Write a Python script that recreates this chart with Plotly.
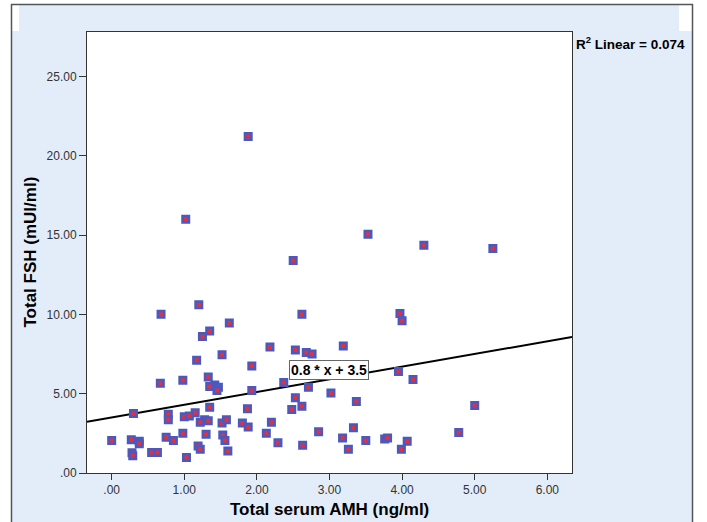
import plotly.graph_objects as go

# Total serum AMH (ng/ml) and total FSH (mUI/ml) per subject
amh = [1.88, 1.02, 3.53, 4.30, 5.25, 2.50, 1.20, 0.68, 2.62, 3.97,
       4.00, 1.62, 1.35, 1.25, 2.18, 3.19, 2.53, 2.68, 2.76, 1.52,
       1.17, 1.93, 3.95, 1.33, 4.15, 0.98, 0.67, 1.42, 1.47, 1.35,
       2.37, 1.45, 1.93, 2.71, 3.02, 2.53, 3.37, 1.35, 2.48, 2.62,
       0.30, 0.78, 0.78, 1.00, 1.15, 1.07, 1.28, 1.33, 1.52, 1.58,
       1.22, 1.80, 2.20, 1.88, 2.85, 3.33, 4.78, 5.00, 1.30, 1.53,
       0.98, 0.75, 0.85, 0.00, 0.27, 0.38, 0.38, 1.56, 1.87, 2.13,
       2.29, 2.63, 3.18, 3.26, 3.50, 3.76, 3.80, 4.07, 3.99, 0.28,
       0.29, 0.55, 0.63, 1.03, 1.19, 1.22, 1.60]
fsh = [21.22, 16.00, 15.05, 14.35, 14.15, 13.40, 10.60, 10.00, 10.00, 10.05,
       9.60, 9.45, 8.95, 8.60, 7.95, 8.00, 7.75, 7.60, 7.50, 7.45,
       7.10, 6.75, 6.40, 6.05, 5.90, 5.85, 5.65, 5.55, 5.40, 5.45,
       5.70, 5.20, 5.20, 5.40, 5.05, 4.75, 4.50, 4.15, 4.00, 4.20,
       3.75, 3.70, 3.35, 3.55, 3.80, 3.60, 3.35, 3.30, 3.15, 3.35,
       3.20, 3.15, 3.20, 2.90, 2.60, 2.85, 2.55, 4.25, 2.45, 2.40,
       2.50, 2.25, 2.05, 2.05, 2.10, 2.00, 1.85, 2.05, 4.05, 2.50,
       1.90, 1.75, 2.20, 1.50, 2.05, 2.15, 2.20, 2.00, 1.50, 1.28,
       1.08, 1.30, 1.30, 0.98, 1.70, 1.50, 1.38]

# Linear fit shown on the chart
slope = 0.8
intercept = 3.5
r2 = 0.074

x_range = [-0.34, 6.34]
y_range = [0, 27.8]
x_ticks = [0, 1, 2, 3, 4, 5, 6]
x_tick_text = [".00", "1.00", "2.00", "3.00", "4.00", "5.00", "6.00"]
y_ticks = [0, 5, 10, 15, 20, 25]
y_tick_text = [".00", "5.00", "10.00", "15.00", "20.00", "25.00"]

W, H = 707, 522
L, R, T, B = 87, 572, 32, 473  # plot area in pixels


def px(x):
    return (x - L) / (R - L)


def py(y):
    return (B - y) / (B - T)


fig = go.Figure()

fig.add_trace(go.Scatter(
    x=x_range,
    y=[slope * v + intercept for v in x_range],
    mode="lines",
    line=dict(color="black", width=2),
    hoverinfo="skip",
    showlegend=False,
))

fig.add_trace(go.Scatter(
    x=amh, y=fsh, mode="markers",
    marker=dict(symbol="square", size=6.5, color="#e2303c",
                line=dict(color="#4a59bf", width=2.5)),
    showlegend=False,
))

panel = "#e2edf9"
border = "#555555"
shapes = [
    # light blue chart panel
    dict(type="rect", xref="paper", yref="paper", x0=px(12), x1=px(692),
         y0=py(5), y1=py(H + 5), fillcolor=panel, line=dict(width=0), layer="below"),
    # white strips in the header band
    dict(type="rect", xref="paper", yref="paper", x0=px(12), x1=px(19),
         y0=py(5), y1=py(31), fillcolor="white", line=dict(width=0), layer="below"),
    dict(type="rect", xref="paper", yref="paper", x0=px(679), x1=px(692),
         y0=py(5), y1=py(31), fillcolor="white", line=dict(width=0), layer="below"),
    # white plotting area
    dict(type="rect", xref="paper", yref="paper", x0=0, x1=1, y0=0, y1=1,
         fillcolor="white", line=dict(width=0), layer="below"),
    # outer frame
    dict(type="line", xref="paper", yref="paper", x0=px(11.5), x1=px(11.5),
         y0=py(4), y1=py(H + 5), line=dict(color=border, width=1.5)),
    dict(type="line", xref="paper", yref="paper", x0=px(11), x1=px(693),
         y0=py(4.5), y1=py(4.5), line=dict(color=border, width=1.5)),
    dict(type="line", xref="paper", yref="paper", x0=px(692.5), x1=px(692.5),
         y0=py(4), y1=py(H + 5), line=dict(color=border, width=1.5)),
]

font_family = "Liberation Sans, Arial, sans-serif"
annotations = [
    dict(text="Total FSH (mUI/ml)", xref="paper", yref="paper",
         x=px(30), y=0.5, xanchor="center", yanchor="middle",
         textangle=-90, showarrow=False,
         font=dict(family=font_family, size=17, color="black", weight="bold")),
    dict(text="Total serum AMH (ng/ml)", xref="paper", yref="paper",
         x=0.5, y=py(509), xanchor="center", yanchor="middle", showarrow=False,
         font=dict(family=font_family, size=17, color="black", weight="bold")),
    dict(text=f"R<sup>2</sup> Linear = {r2:.3f}", xref="paper", yref="paper",
         x=px(574), y=py(43), xanchor="left", yanchor="middle", showarrow=False,
         font=dict(family=font_family, size=13.5, color="black", weight="bold")),
    dict(text=f"{slope} * x + {intercept}", x=2.99, y=6.52,
         xanchor="center", yanchor="middle", showarrow=False,
         bgcolor="white", bordercolor="#666666", borderwidth=1, borderpad=1,
         font=dict(family=font_family, size=14, color="black", weight="bold")),
]

axis_common = dict(
    showline=True, linecolor="#333333", linewidth=1, mirror=True,
    showgrid=False, zeroline=False, ticks="outside",
    tickcolor="#333333",
    tickfont=dict(family=font_family, size=12, color="#333333"),
)

fig.update_layout(
    width=W, height=H,
    margin=dict(l=L, r=W - R, t=T, b=H - B, pad=0),
    paper_bgcolor="white",
    plot_bgcolor="rgba(0,0,0,0)",
    shapes=shapes,
    annotations=annotations,
    xaxis=dict(range=x_range, tickvals=x_ticks, ticktext=x_tick_text,
               ticklen=6, **axis_common),
    yaxis=dict(range=y_range, tickvals=y_ticks, ticktext=y_tick_text,
               ticklen=7, **axis_common),
)

fig.write_html("out.html")
